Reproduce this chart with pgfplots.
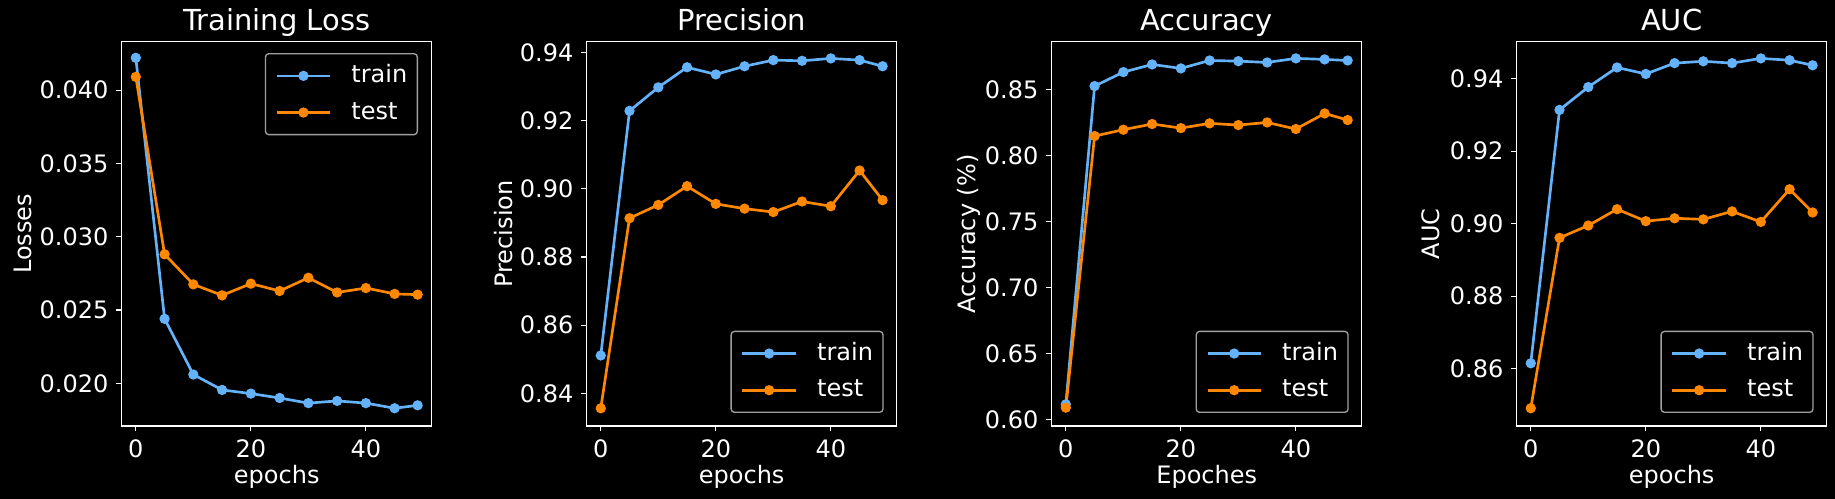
\documentclass[border=0pt]{standalone}
\usepackage{pgfplots}
\pgfplotsset{compat=1.18}
\usepackage{fontspec}
\setmainfont{DejaVu Sans}

\definecolor{trainblue}{RGB}{99,178,250}
\definecolor{testorange}{RGB}{255,136,0}
\definecolor{legframe}{RGB}{160,160,160}

\pgfplotsset{
  panel/.style={
    scale only axis,
    width=232.5pt, height=288.2pt,
    anchor=south west,
    xmin=-2.45, xmax=51.45,
    xtick={0,20,40},
    axis line style={white, line width=0.9pt},
    every tick/.style={white, line width=0.9pt},
    tick align=outside,
    major tick length=4pt,
    xtick pos=bottom, ytick pos=left,
    /pgf/number format/assume math mode=true,
    tick label style={text=white, font=\fontsize{18}{21}\selectfont},
    xticklabel style={yshift=-3pt},
    yticklabel style={xshift=-2.5pt},
    scaled ticks=false,
    title style={text=white, font=\fontsize{21.7}{25}\selectfont,
                 at={(0.5,1)}, anchor=base, yshift=2.5pt},
    xlabel style={text=white, font=\fontsize{18}{21}\selectfont,
                  at={(axis description cs:0.5,0)}, anchor=base, yshift=-43.5pt},
    legend cell align=left,
    legend style={fill=black, draw=legframe, line width=1pt, rounded corners=2.5pt,
                  text=white, font=\fontsize{18}{21}\selectfont,
                  inner xsep=7.5pt, inner ysep=8.6pt, row sep=11.5pt,
                  nodes={inner sep=0pt, text height=13pt, text depth=3pt},
                  /tikz/every odd column/.append style={column sep=15pt}},
    legend image code/.code={%
      \draw[#1, line width=2pt, rounded corners=0pt, mark repeat=2, mark phase=2]
        plot coordinates {(0pt,0pt) (20pt,0pt) (40pt,0pt)};},
  },
  trainline/.style={trainblue, line width=2pt, mark=*, mark size=2.8pt,
                    mark options={solid, fill=trainblue, draw=trainblue}},
  testline/.style={testorange, line width=2pt, mark=*, mark size=2.8pt,
                   mark options={solid, fill=testorange, draw=testorange}},
  upright/.style={legend style={at={(1,1)}, anchor=north east,
                                xshift=-10.3pt, yshift=-8.5pt}},
  lowright/.style={legend style={at={(1,0)}, anchor=south east,
                                 xshift=-9.75pt, yshift=9.75pt}},
  ylab/.style={every axis y label/.style={at={(axis description cs:0,0.5)},
               xshift=-#1, rotate=90, anchor=base,
               text=white, font=\fontsize{18}{21}\selectfont}},
}

\begin{document}
\begin{tikzpicture}
\fill[black] (0,0) rectangle (1376.25pt,374.25pt);

% Training loss
\begin{axis}[panel, upright, ylab=67.5pt, at={(91.3pt,54.75pt)},
  title={Training Loss}, xlabel={epochs}, ylabel={Losses},
  ymin=0.01709, ymax=0.0433,
  ytick={0.020,0.025,0.030,0.035,0.040},
  yticklabels={0.020,0.025,0.030,0.035,0.040}]
\addplot[trainline] coordinates {
  (0,0.0422) (5,0.0244) (10,0.0206) (15,0.01955) (20,0.0193) (25,0.0190)
  (30,0.01865) (35,0.0188) (40,0.01865) (45,0.0183) (49,0.0185)};
\addlegendentry{train}
\addplot[testline] coordinates {
  (0,0.0409) (5,0.0288) (10,0.02675) (15,0.0260) (20,0.0268) (25,0.0263)
  (30,0.0272) (35,0.0262) (40,0.0265) (45,0.0261) (49,0.02605)};
\addlegendentry{test}
\end{axis}

% Precision
\begin{axis}[panel, lowright, ylab=55.8pt, at={(440pt,54.75pt)},
  title={Precision}, xlabel={epochs}, ylabel={Precision},
  ymin=0.8304, ymax=0.9432,
  ytick={0.84,0.86,0.88,0.90,0.92,0.94},
  yticklabels={0.84,0.86,0.88,0.90,0.92,0.94}]
\addplot[trainline] coordinates {
  (0,0.8511) (5,0.9229) (10,0.9298) (15,0.9357) (20,0.9336) (25,0.9360)
  (30,0.9378) (35,0.9376) (40,0.9383) (45,0.9378) (49,0.9360)};
\addlegendentry{train}
\addplot[testline] coordinates {
  (0,0.8356) (5,0.8914) (10,0.8953) (15,0.9008) (20,0.8956) (25,0.8942)
  (30,0.8932) (35,0.8963) (40,0.8949) (45,0.9054) (49,0.8967)};
\addlegendentry{test}
\end{axis}

% Accuracy
\begin{axis}[panel, lowright, ylab=57.5pt, at={(788.8pt,54.75pt)},
  title={Accuracy}, xlabel={Epoches}, ylabel={Accuracy (\%)},
  ymin=0.5952, ymax=0.8861,
  ytick={0.60,0.65,0.70,0.75,0.80,0.85},
  yticklabels={0.60,0.65,0.70,0.75,0.80,0.85}]
\addplot[trainline] coordinates {
  (0,0.6116) (5,0.8525) (10,0.8631) (15,0.8689) (20,0.8659) (25,0.8719)
  (30,0.8714) (35,0.8704) (40,0.8735) (45,0.8727) (49,0.8719)};
\addlegendentry{train}
\addplot[testline] coordinates {
  (0,0.6091) (5,0.8147) (10,0.8195) (15,0.8238) (20,0.8207) (25,0.8243)
  (30,0.8230) (35,0.8250) (40,0.8200) (45,0.8318) (49,0.8268)};
\addlegendentry{test}
\end{axis}

% AUC
\begin{axis}[panel, lowright, ylab=58pt, at={(1137.5pt,54.75pt)},
  title={AUC}, xlabel={epochs}, ylabel={AUC},
  ymin=0.8442, ymax=0.9502,
  ytick={0.86,0.88,0.90,0.92,0.94},
  yticklabels={0.86,0.88,0.90,0.92,0.94}]
\addplot[trainline] coordinates {
  (0,0.8615) (5,0.9314) (10,0.9377) (15,0.9431) (20,0.9413) (25,0.9443)
  (30,0.9448) (35,0.9443) (40,0.9456) (45,0.9451) (49,0.9437)};
\addlegendentry{train}
\addplot[testline] coordinates {
  (0,0.8491) (5,0.8961) (10,0.8995) (15,0.9040) (20,0.9007) (25,0.9015)
  (30,0.9012) (35,0.9034) (40,0.9005) (45,0.9095) (49,0.9031)};
\addlegendentry{test}
\end{axis}
\end{tikzpicture}
\end{document}
